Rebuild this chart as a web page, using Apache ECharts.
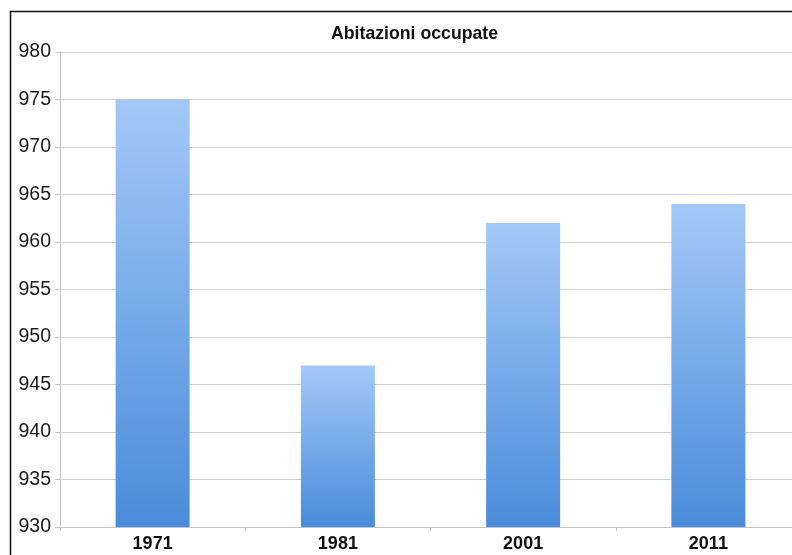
<!DOCTYPE html>
<html>
<head>
<meta charset="utf-8">
<script src="https://cdn.jsdelivr.net/npm/echarts@6/dist/echarts.min.js"></script>
<style>
  html, body { margin: 0; padding: 0; background: #ffffff; }
  #chart { width: 792px; height: 555px; }
</style>
</head>
<body>
<div id="chart"></div>
<script>
// Occupied dwellings by census year
const years = ['1971', '1981', '2001', '2011'];
const dwellings = [975, 947, 962, 964];
const yTicks = { min: 930, max: 980, step: 5 };

const chart = echarts.init(document.getElementById('chart'), null, { renderer: 'canvas' });

chart.setOption({
  animation: false,
  backgroundColor: '#ffffff',
  title: {
    text: 'Abitazioni occupate',
    left: 326,
    top: 20,
    textStyle: { fontFamily: 'Liberation Sans, Arial, sans-serif', fontSize: 17.7, fontWeight: 'bold', color: '#111' }
  },
  graphic: [{
    type: 'rect',
    shape: { x: 10.5, y: 11.5, width: 800, height: 560 },
    style: { fill: 'none', stroke: '#111', lineWidth: 1.5 },
    silent: true,
    z: 10
  }],
  // plot area runs past the right edge of the canvas
  grid: { left: 60, right: -9, top: 52, bottom: 28, containLabel: false, outerBoundsMode: 'none' },
  xAxis: {
    type: 'category',
    data: years,
    axisLine: { lineStyle: { color: '#c4c4c4', width: 1 } },
    axisTick: { show: true, length: 4, lineStyle: { color: '#c4c4c4' } },
    axisLabel: {
      margin: 8,
      fontFamily: 'Liberation Sans, Arial, sans-serif',
      fontSize: 18, fontWeight: 'bold', color: '#111'
    }
  },
  yAxis: {
    type: 'value',
    min: yTicks.min,
    max: yTicks.max,
    interval: yTicks.step,
    axisLine: { show: true, lineStyle: { color: '#c4c4c4', width: 1 } },
    axisTick: { show: true, length: 5, lineStyle: { color: '#c4c4c4' } },
    axisLabel: {
      margin: 9,
      fontFamily: 'Liberation Sans, Arial, sans-serif',
      fontSize: 19.5, color: '#1a1a1a'
    },
    splitLine: { lineStyle: { color: '#cccccc', width: 1.2 } }
  },
  series: [{
    type: 'bar',
    data: dwellings,
    barWidth: 74,
    itemStyle: {
      color: new echarts.graphic.LinearGradient(0, 0, 0, 1, [
        { offset: 0, color: '#a3c8f7' },
        { offset: 1, color: '#4a8cda' }
      ])
    }
  }]
});
</script>
</body>
</html>
